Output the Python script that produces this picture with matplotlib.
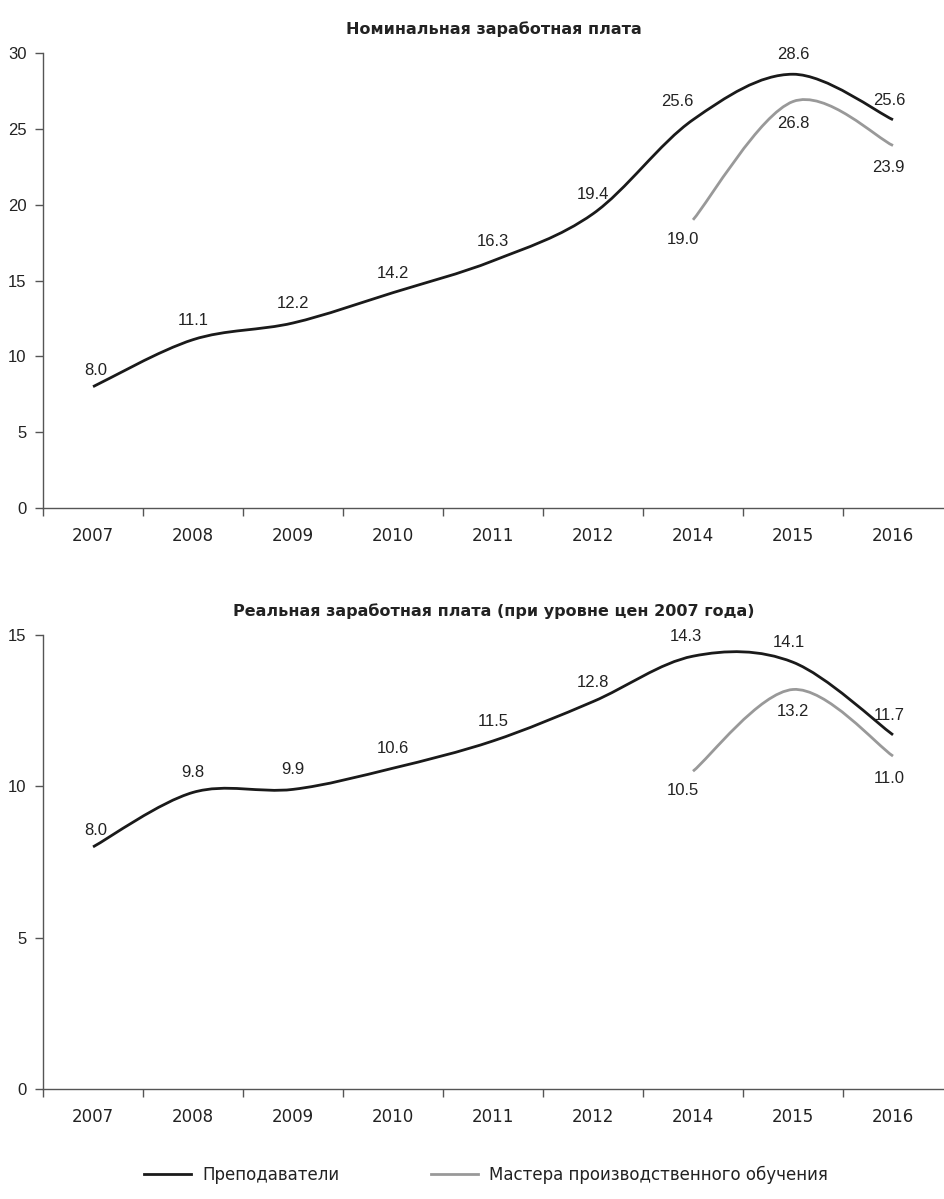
import matplotlib.pyplot as plt
from matplotlib.path import Path
from matplotlib.patches import PathPatch
from matplotlib.lines import Line2D
import numpy as np

plt.rcParams['font.family'] = ['DejaVu Sans']

years = ['2007', '2008', '2009', '2010', '2011', '2012', '2014', '2015', '2016']

# Номинальная заработная плата
nom_teach = [8.0, 11.1, 12.2, 14.2, 16.3, 19.4, 25.6, 28.6, 25.6]
nom_master = [19.0, 26.8, 23.9]          # 2014-2016

# Реальная заработная плата (цены 2007 г.)
real_teach = [8.0, 9.8, 9.9, 10.6, 11.5, 12.8, 14.3, 14.1, 11.7]
real_master = [10.5, 13.2, 11.0]

c_teach = '#1a1a1a'
c_master = '#999999'
lab_font = ['Liberation Sans', 'DejaVu Sans']


def smooth_path(x, y):
    # сглаженная линия как в Excel: кривые Безье через точки
    pts = np.column_stack([x, y]).astype(float)
    n = len(pts)
    verts = [pts[0]]
    codes = [Path.MOVETO]
    for i in range(n - 1):
        p0 = pts[i - 1] if i > 0 else pts[i]
        p1 = pts[i]
        p2 = pts[i + 1]
        p3 = pts[i + 2] if i + 2 < n else pts[i + 1]
        c1 = p1 + (p2 - p0) / 6
        c2 = p2 - (p3 - p1) / 6
        verts += [c1, c2, p2]
        codes += [Path.CURVE4] * 3
    return Path(verts, codes)


def draw(ax, teach, master, ymax, ystep, title, offs_t, offs_m):
    x = np.arange(len(years))
    xm = x[-len(master):]
    ax.add_patch(PathPatch(smooth_path(x, teach), fill=False, edgecolor=c_teach,
                           lw=2.0, capstyle='butt'))
    ax.add_patch(PathPatch(smooth_path(xm, master), fill=False, edgecolor=c_master,
                           lw=2.0, capstyle='butt'))
    for xi, v, o in zip(x, teach, offs_t):
        ax.annotate(f'{v:.1f}', (xi, v), xytext=o, textcoords='offset points',
                    ha='center', va='center', fontsize=12, color='#222222',
                    family=lab_font)
    for xi, v, o in zip(xm, master, offs_m):
        ax.annotate(f'{v:.1f}', (xi, v), xytext=o, textcoords='offset points',
                    ha='center', va='center', fontsize=12, color='#222222',
                    family=lab_font)

    ax.set_xlim(-0.5, 8.51)
    ax.set_ylim(0, ymax)
    ax.set_yticks(np.arange(0, ymax + 0.1, ystep))
    ax.set_xticks(x)
    ax.set_xticklabels(years)
    ax.set_xticks(np.arange(-0.5, 8.5, 1), minor=True)
    ax.tick_params(axis='x', which='major', length=0, pad=14, labelsize=12,
                   labelcolor='#222222')
    ax.tick_params(axis='x', which='minor', length=6, width=1, color='#555555')
    ax.tick_params(axis='y', length=6, width=1, color='#555555', labelsize=12,
                   pad=6, labelcolor='#222222')
    for lbl in ax.get_yticklabels():
        lbl.set_family(lab_font)
    for s in ['top', 'right']:
        ax.spines[s].set_visible(False)
    for s in ['left', 'bottom']:
        ax.spines[s].set_color('#555555')
        ax.spines[s].set_linewidth(1)
    ax.set_title(title, fontsize=11.5, fontweight='bold', pad=14, color='#222222')


fig = plt.figure(figsize=(9.44, 11.99), dpi=100)
ax1 = fig.add_axes([0.0456, 0.5763, 0.9544, 0.3795])
ax2 = fig.add_axes([0.0456, 0.0917, 0.9544, 0.3787])

draw(ax1, nom_teach, nom_master, 30, 5, 'Номинальная заработная плата',
     [(2, 12), (0, 14), (0, 14), (0, 14), (0, 14), (0, 14), (-11, 13), (0, 14), (-3, 14)],
     [(-7, -14), (0, -16), (-3, -16)])
draw(ax2, real_teach, real_master, 15, 5,
     'Реальная заработная плата (при уровне цен 2007 года)',
     [(2, 12), (0, 14), (0, 14), (0, 14), (0, 14), (0, 14), (-5, 14), (-3, 14), (-3, 14)],
     [(-7, -14), (0, -16), (-3, -16)])

handles = [Line2D([], [], color=c_teach, lw=2.0),
           Line2D([], [], color=c_master, lw=2.0)]
fig.legend(handles, ['Преподаватели', 'Мастера производственного обучения'],
           loc='lower center', bbox_to_anchor=(0.515, 0.0), ncol=2, frameon=False,
           fontsize=12, handlelength=2.8, handletextpad=0.7, columnspacing=5.5,
           labelcolor='#222222')

fig.savefig('out.png', dpi=100)
